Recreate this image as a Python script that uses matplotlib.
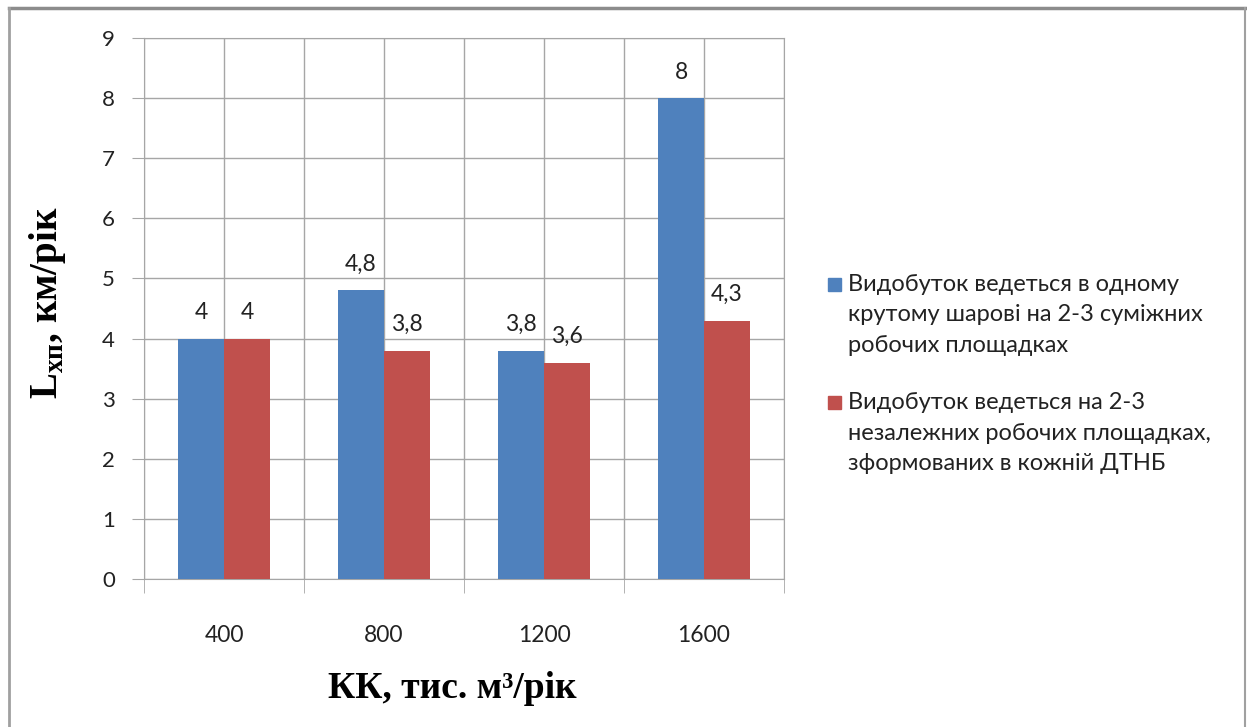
import numpy as np
import matplotlib.pyplot as plt
from matplotlib.lines import Line2D
from matplotlib.patches import Rectangle

# дані
categories = ['400', '800', '1200', '1600']
series_one = [4, 4.8, 3.8, 8]
series_two = [4, 3.8, 3.6, 4.3]
series_names = [
    'Видобуток ведеться в одному\nкрутому шарові на 2-3 суміжних\nробочих площадках',
    'Видобуток ведеться на 2-3\nнезалежних робочих площадках,\nзформованих в кожній ДТНБ',
]
colors = ['#4F81BD', '#C0504D']

plt.rcParams['font.family'] = ['Lato', 'Open Sans', 'DejaVu Sans']
plt.rcParams['mathtext.fontset'] = 'custom'
plt.rcParams['mathtext.rm'] = 'Liberation Serif'
plt.rcParams['mathtext.bf'] = 'Liberation Serif:bold'

W, H = 1247, 727
fig = plt.figure(figsize=(W / 100, H / 100), dpi=100)
ax = fig.add_axes([144 / W, (H - 579) / H, 640 / W, 541 / H])

x = np.arange(len(categories))
w = 0.2875
ax.bar(x - w / 2, series_one, w, color=colors[0], zorder=3)
ax.bar(x + w / 2, series_two, w, color=colors[1], zorder=3)

def fmt(v):
    return f'{v:g}'.replace('.', ',')

for vals, off in [(series_one, -w / 2), (series_two, w / 2)]:
    for xi, v in zip(x, vals):
        ax.annotate(fmt(v), (xi + off, v), xytext=(0, 26), textcoords='offset pixels',
                    ha='center', va='center', fontsize=16.5, color='#222222')

grid_c = '#a6a6a6'
ax.set_xlim(-0.5, len(categories) - 0.5)
ax.set_ylim(0, 9)
ax.set_yticks(range(10))
ax.set_xticks(x)
ax.set_xticklabels(categories)
ax.set_xticks(np.arange(-0.5, len(categories), 1.0), minor=True)
ax.tick_params(axis='x', which='major', length=0, pad=33, labelsize=16.5, labelcolor='#222222')
ax.tick_params(axis='x', which='minor', length=10, color=grid_c)
ax.tick_params(axis='y', length=9, color=grid_c, pad=12, labelsize=16, labelcolor='#222222')
ax.grid(True, which='both', axis='x', color=grid_c, linewidth=1, zorder=0)
ax.grid(True, axis='y', color=grid_c, linewidth=1, zorder=0)
for s in ax.spines.values():
    s.set_color(grid_c)
ax.set_axisbelow(True)

fig.text(47 / W, 1 - 303 / H, r'$\mathbf{L}_{\mathbf{хп}}$' + ', км/рік', rotation=90,
         ha='center', va='center', fontsize=28, family='Liberation Serif', weight='bold')
fig.text(452 / W, 1 - 688 / H, 'КК, тис. м³/рік', ha='center', va='center',
         fontsize=27, family='Liberation Serif', weight='bold')

# легенда
for i, (name, c) in enumerate(zip(series_names, colors)):
    yb = 291 + i * 118
    fig.patches.append(Rectangle((828 / W, 1 - yb / H), 13 / W, 13 / H,
                                 transform=fig.transFigure, color=c))
    for k, line in enumerate(name.split('\n')):
        fig.text(848 / W, 1 - (yb + k * 30.5) / H, line, ha='left', va='baseline',
                 fontsize=17, color='#222222')

# рамка
frame_c = '#8c8c8c'
fig.add_artist(Line2D([9 / W, 1245 / W], [1 - 8 / H, 1 - 8 / H], color=frame_c, lw=2.5))
fig.add_artist(Line2D([9 / W, 9 / W], [0, 1 - 8 / H], color='#a0a0a0', lw=2))
fig.add_artist(Line2D([1245 / W, 1245 / W], [0, 1 - 8 / H], color='#a0a0a0', lw=1.5))

fig.savefig('out.png', dpi=100)
